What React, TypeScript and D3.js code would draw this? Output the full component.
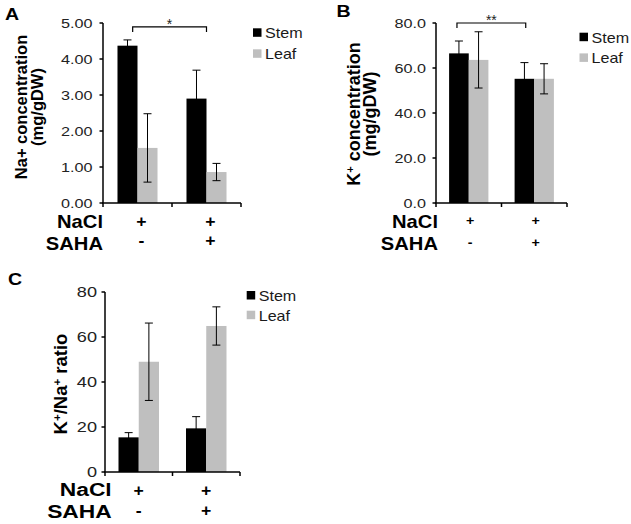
import React from "react";
import * as d3 from "d3";

// ---------- data ----------
const categories = ["NaCl+/SAHA-", "NaCl+/SAHA+"];
const naclSigns = ["+", "+"];
const sahaSigns = ["-", "+"];
const seriesNames = ["Stem", "Leaf"];

const naStem = [4.37, 2.9];
const naStemErr = [0.16, 0.79];
const naLeaf = [1.53, 0.86];
const naLeafErr = [0.95, 0.24];
const naTicks = [0, 1, 2, 3, 4, 5];

const kStem = [66.5, 55.2];
const kStemErr = [5.5, 7.2];
const kLeaf = [63.6, 55.2];
const kLeafErr = [12.5, 6.7];
const kTicks = [0, 20, 40, 60, 80];

const ratioStem = [15.4, 19.4];
const ratioStemErr = [2.1, 5.2];
const ratioLeaf = [49.0, 64.9];
const ratioLeafErr = [17.2, 8.5];
const ratioTicks = [0, 20, 40, 60, 80];

const naSignificance = "*";
const kSignificance = "**";

// ---------- styling ----------
const FONT = "'Liberation Sans', Arial, Helvetica, sans-serif";
const STEM_COLOR = "#000000";
const LEAF_COLOR = "#bfbfbf";
const TEXT_COLOR = "#1a1a1a";

function HText(props: any) {
  const { x, y, sx = 1, size, weight = "normal", anchor = "start", fill = TEXT_COLOR, children } = props;
  return (
    <text
      transform={`translate(${x},${y}) scale(${sx},1)`}
      fontSize={size}
      fontWeight={weight}
      textAnchor={anchor}
      fill={fill}
      fontFamily={FONT}
    >
      {children}
    </text>
  );
}

function Panel(p: any) {
  const x = d3.scaleBand<string>().domain(categories).range([p.axisX, p.xEnd]).padding(0);
  const y = d3.scaleLinear().domain([0, p.yMax]).range([p.yZero, p.yTopPx]);
  const bw = x.bandwidth();
  const barW = bw * p.barFrac;
  const fmt = d3.format(p.fmt);
  const center = (c: string) => (x(c) as number) + bw / 2;

  const bars = categories.flatMap((c, i) => [
    { c, x: center(c) - barW, v: p.stem[i], e: p.stemErr[i], color: STEM_COLOR },
    { c, x: center(c), v: p.leaf[i], e: p.leafErr[i], color: LEAF_COLOR },
  ]);

  const boundaries = [p.axisX, ...categories.map((c) => (x(c) as number) + bw)];

  return (
    <g>
      {/* panel letter */}
      <HText x={p.letter.x} y={p.letter.y} size={17} weight="bold" sx={1.15} fill="#000">
        {p.letter.text}
      </HText>

      {/* bars */}
      {bars.map((b, i) => (
        <rect key={i} x={b.x} y={y(b.v)} width={barW} height={y(0) - y(b.v)} fill={b.color} />
      ))}

      {/* error bars */}
      {bars.map((b, i) => {
        const cx = b.x + barW / 2;
        const top = y(b.v + b.e);
        const bot = y(b.v - b.e);
        return (
          <g key={"e" + i} stroke="#000" strokeWidth={1}>
            <line x1={cx} x2={cx} y1={top} y2={bot} />
            <line x1={cx - 4} x2={cx + 4} y1={top} y2={top} />
            <line x1={cx - 4} x2={cx + 4} y1={bot} y2={bot} />
          </g>
        );
      })}

      {/* y axis */}
      <line x1={p.axisX} x2={p.axisX} y1={y(0)} y2={y(p.yMax)} stroke="#000" strokeWidth={1.5} />
      {p.ticks.map((t: number) => (
        <g key={t}>
          <line x1={p.axisX - 3.5} x2={p.axisX} y1={y(t)} y2={y(t)} stroke="#000" strokeWidth={1.5} />
          <HText x={p.tickLabelX} y={y(t) + p.tickSize * 0.36} size={p.tickSize} sx={p.tickSx} anchor="end" fill="#222">
            {fmt(t)}
          </HText>
        </g>
      ))}

      {/* x axis */}
      <line x1={p.axisX - 1} x2={p.xEnd} y1={y(0)} y2={y(0)} stroke="#000" strokeWidth={1.5} />
      {boundaries.map((bx, i) => (
        <line key={i} x1={bx} x2={bx} y1={y(0)} y2={y(0) + 4} stroke="#000" strokeWidth={1.5} />
      ))}

      {/* y axis title */}
      {p.titleLines.map((line: any, i: number) => (
        <text
          key={i}
          transform={`translate(${p.titleX[i]},${p.titleCy}) rotate(-90)`}
          textAnchor="middle"
          fontSize={p.titleSize}
          fontWeight="bold"
          fontFamily={FONT}
          fill="#000"
        >
          {line}
        </text>
      ))}

      {/* significance bracket */}
      {p.sig && (() => {
        const x1 = center(categories[0]) + p.sig.off0 * bw;
        const x2 = center(categories[1]) + p.sig.off1 * bw;
        const yy = y(p.sig.level);
        return (
          <g>
            <path d={`M${x1},${yy + 5}V${yy}H${x2}V${yy + 5}`} fill="none" stroke="#000" strokeWidth={1.2} />
            <HText x={(x1 + x2) / 2} y={yy + 2} size={14} anchor="middle" fill="#222">
              {p.sig.text}
            </HText>
          </g>
        );
      })()}

      {/* legend */}
      {seriesNames.map((s, i) => (
        <g key={s}>
          <rect
            x={p.legend.x}
            y={p.legend.y + i * p.legend.gap}
            width={8.5}
            height={8.5}
            fill={i === 0 ? STEM_COLOR : LEAF_COLOR}
          />
          <HText x={p.legend.x + 12} y={p.legend.y + i * p.legend.gap + 10} size={14} sx={1.15} fill={TEXT_COLOR}>
            {s}
          </HText>
        </g>
      ))}

      {/* condition rows */}
      <HText x={p.rows.labelX} y={p.rows.y1} size={p.rows.size} sx={p.rows.sx} weight="bold" anchor="end" fill="#000">
        NaCl
      </HText>
      <HText x={p.rows.labelX} y={p.rows.y2} size={p.rows.size} sx={p.rows.sx} weight="bold" anchor="end" fill="#000">
        SAHA
      </HText>
      {categories.map((c, i) => (
        <g key={"s" + i}>
          <HText x={center(c) + p.rows.markOff} y={p.rows.m1} size={p.rows.markSize} sx={1.1} weight="bold" anchor="middle" fill="#000">
            {naclSigns[i]}
          </HText>
          <HText x={center(c) + p.rows.markOff} y={p.rows.m2} size={p.rows.markSize} sx={1.1} weight="bold" anchor="middle" fill="#000">
            {sahaSigns[i]}
          </HText>
        </g>
      ))}
    </g>
  );
}

const sup = (t: string) => (
  <tspan fontSize="0.62em" dy={-6}>
    {t}
  </tspan>
);

export default function App() {
  return (
    <svg
      width={631}
      height={524}
      style={{ position: "absolute", left: 0, top: 0, background: "#fff" }}
    >
      <rect width={631} height={524} fill="#fff" />
      <Panel
        letter={{ text: "A", x: 5, y: 20 }}
        axisX={103}
        xEnd={241}
        yZero={203}
        yTopPx={23}
        yMax={5}
        barFrac={0.29}
        ticks={naTicks}
        fmt=".2f"
        tickSize={13.5}
        tickSx={1.2}
        tickLabelX={92.5}
        stem={naStem}
        stemErr={naStemErr}
        leaf={naLeaf}
        leafErr={naLeafErr}
        titleLines={["Na+ concentration", "(mg/gDW)"]}
        titleX={[27, 43]}
        titleCy={107}
        titleSize={16.5}
        sig={{ text: naSignificance, level: 4.89, off0: -0.07, off1: 0 }}
        legend={{ x: 253, y: 28.3, gap: 21 }}
        rows={{ labelX: 103, y1: 228, y2: 250, size: 18, sx: 1.12, markOff: 4, m1: 227, m2: 246, markSize: 16 }}
      />
      <Panel
        letter={{ text: "B", x: 336.5, y: 17 }}
        axisX={436}
        xEnd={567}
        yZero={203}
        yTopPx={23}
        yMax={80}
        barFrac={0.3}
        ticks={kTicks}
        fmt=".1f"
        tickSize={13.5}
        tickSx={1.2}
        tickLabelX={426}
        stem={kStem}
        stemErr={kStemErr}
        leaf={kLeaf}
        leafErr={kLeafErr}
        titleLines={[
          <>
            K{sup("+")}
            <tspan dy={6}> concentration</tspan>
          </>,
          "(mg/gDW)",
        ]}
        titleX={[360, 376]}
        titleCy={114}
        titleSize={18}
        sig={{ text: kSignificance, level: 80, off0: -0.18, off1: -0.13 }}
        legend={{ x: 579.5, y: 32.7, gap: 20.7 }}
        rows={{ labelX: 438, y1: 228, y2: 250, size: 18, sx: 1.12, markOff: 1.5, m1: 225, m2: 247, markSize: 13 }}
      />
      <Panel
        letter={{ text: "C", x: 8, y: 285 }}
        axisX={105}
        xEnd={240}
        yZero={472}
        yTopPx={292}
        yMax={80}
        barFrac={0.3}
        ticks={ratioTicks}
        fmt="d"
        tickSize={14.5}
        tickSx={1.25}
        tickLabelX={97}
        stem={ratioStem}
        stemErr={ratioStemErr}
        leaf={ratioLeaf}
        leafErr={ratioLeafErr}
        titleLines={[
          <>
            K{sup("+")}
            <tspan dy={6}>/Na</tspan>
            {sup("+")}
            <tspan dy={6}> ratio</tspan>
          </>,
        ]}
        titleX={[67]}
        titleCy={384}
        titleSize={18.5}
        sig={null}
        legend={{ x: 246.7, y: 291, gap: 19.7 }}
        rows={{ labelX: 111.7, y1: 496, y2: 518, size: 19, sx: 1.2, markOff: 0, m1: 496, m2: 516, markSize: 16 }}
      />
    </svg>
  );
}
